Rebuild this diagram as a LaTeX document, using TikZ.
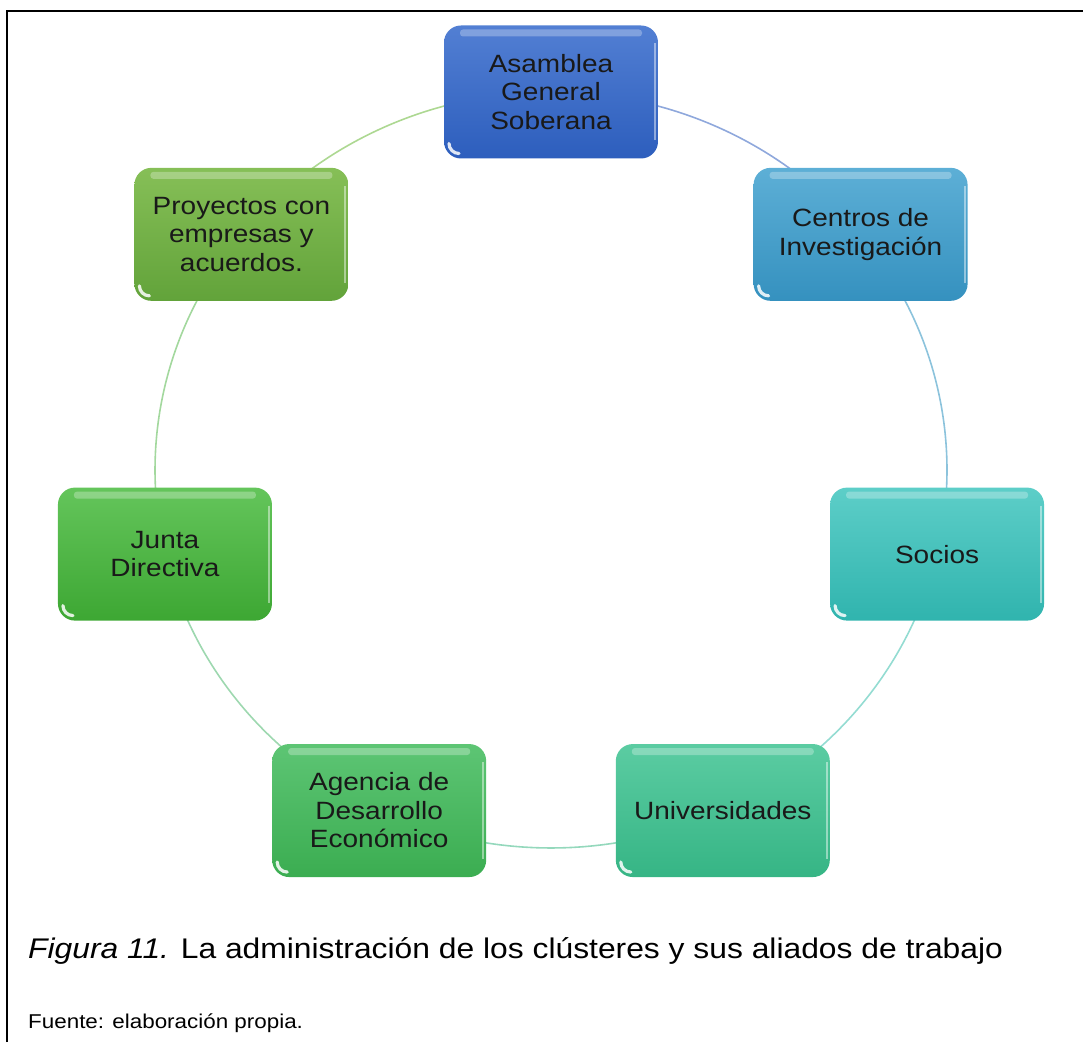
\documentclass[tikz,border=0pt]{standalone}
\usepackage{fontspec}
\setmainfont{Liberation Sans}[FakeStretch=1.12]
\usetikzlibrary{calc}
\pgfdeclarelayer{ringlayer}
\pgfsetlayers{ringlayer,main}
\definecolor{tA}{HTML}{527FD3}\definecolor{bA}{HTML}{2D5EBD}
\definecolor{tB}{HTML}{5DAFD6}\definecolor{bB}{HTML}{3591BF}
\definecolor{tC}{HTML}{5DCEC8}\definecolor{bC}{HTML}{30B4AE}
\definecolor{tD}{HTML}{5BCCA2}\definecolor{bD}{HTML}{36B585}
\definecolor{tE}{HTML}{5DC574}\definecolor{bE}{HTML}{3BAD51}
\definecolor{tF}{HTML}{64C55B}\definecolor{bF}{HTML}{3DA733}
\definecolor{tG}{HTML}{86BF57}\definecolor{bG}{HTML}{62A33A}
\definecolor{r1}{HTML}{8FA8DC}\definecolor{r2}{HTML}{8CC3DC}
\definecolor{r3}{HTML}{94DCD2}\definecolor{r4}{HTML}{94D8BC}
\definecolor{r5}{HTML}{9ED8B0}\definecolor{r6}{HTML}{A3D89E}
\definecolor{r7}{HTML}{ADD892}
\tikzset{
  box/.style={rectangle, rounded corners=17pt, minimum width=214pt, minimum height=133pt,
    inner sep=0pt, align=center, text=black!90, font=\fontsize{25}{28.5}\selectfont,
    path picture={
      \fill[white,opacity=0.28,rounded corners=3pt]
        ([xshift=16pt,yshift=-4pt]path picture bounding box.north west) rectangle
        ([xshift=-16pt,yshift=-11pt]path picture bounding box.north east);
      \draw[white,opacity=0.45,line width=2pt]
        ([xshift=-3pt,yshift=-18pt]path picture bounding box.north east) --
        ([xshift=-3pt,yshift=18pt]path picture bounding box.south east);
      \draw[white,opacity=0.85,line width=3.2pt,line cap=round]
        ([xshift=5pt,yshift=15pt]path picture bounding box.south west)
        arc[start angle=180,end angle=270,radius=10pt];
    }},
  ring/.style={line width=1.6pt},
  capfont/.style={font=\fontsize{28.4}{32}\selectfont},
  srcfont/.style={font=\fontsize{20}{24}\selectfont}
}
\begin{document}
\begin{tikzpicture}[x=1pt,y=1pt]
\useasboundingbox (0,0) rectangle (1083,1042);
\draw[line width=2pt] (7,0) -- (7,1031) -- (1083,1031);
\coordinate (O) at (551,572);
\node[box, top color=tA, bottom color=bA] (asam) at ($(O)+(90:396pt and 378pt)$) {Asamblea\\General\\Soberana};
\node[box, top color=tB, bottom color=bB] (cent) at ($(O)+(38.571:396pt and 378pt)$) {Centros de\\Investigación};
\node[box, top color=tC, bottom color=bC] (soc) at ($(O)+(-12.857:396pt and 378pt)$) {Socios};
\node[box, top color=tD, bottom color=bD] (univ) at ($(O)+(-64.286:396pt and 378pt)$) {Universidades};
\node[box, top color=tE, bottom color=bE] (agen) at ($(O)+(-115.714:396pt and 378pt)$) {Agencia de\\Desarrollo\\Económico};
\node[box, top color=tF, bottom color=bF] (junta) at ($(O)+(-167.143:396pt and 378pt)$) {Junta\\Directiva};
\node[box, top color=tG, bottom color=bG] (proy) at ($(O)+(141.429:396pt and 378pt)$) {Proyectos con\\empresas y\\acuerdos.};
\begin{pgfonlayer}{ringlayer}
\draw[ring,r1] (asam.center) arc[start angle=90,end angle=38.571,x radius=396pt,y radius=378pt];
\draw[ring,r2] (cent.center) arc[start angle=38.571,end angle=-12.857,x radius=396pt,y radius=378pt];
\draw[ring,r3] (soc.center) arc[start angle=-12.857,end angle=-64.286,x radius=396pt,y radius=378pt];
\draw[ring,r4] (univ.center) arc[start angle=-64.286,end angle=-115.714,x radius=396pt,y radius=378pt];
\draw[ring,r5] (agen.center) arc[start angle=-115.714,end angle=-167.143,x radius=396pt,y radius=378pt];
\draw[ring,r6] (junta.center) arc[start angle=-167.143,end angle=-218.571,x radius=396pt,y radius=378pt];
\draw[ring,r7] (proy.center) arc[start angle=141.429,end angle=90,x radius=396pt,y radius=378pt];
\end{pgfonlayer}
\node[capfont, anchor=base west, inner sep=0pt] (cap) at (28,84) {\textit{Figura 11.} La administración de los clústeres y sus aliados de trabajo};
\node[srcfont, anchor=base west, inner sep=0pt] (src) at (28,14) {Fuente: elaboración propia.};
\end{tikzpicture}
\end{document}
